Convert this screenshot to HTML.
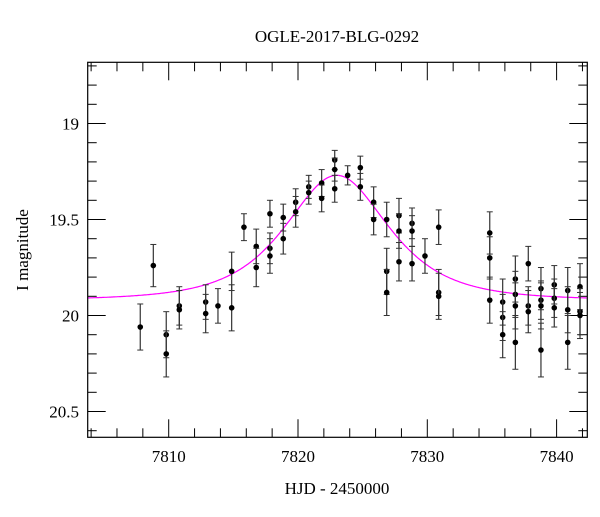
<!DOCTYPE html>
<html><head><meta charset="utf-8"><style>
body{margin:0;background:#fff;}
svg text{font-family:"Liberation Serif",serif;fill:#000;}
</style></head><body>
<svg id="chart" width="600" height="512" xmlns="http://www.w3.org/2000/svg">
<text x="337" y="42" font-size="17" text-anchor="middle">OGLE-2017-BLG-0292</text>
<text x="337" y="494" font-size="17" text-anchor="middle">HJD - 2450000</text>
<text x="28" y="250" font-size="17" text-anchor="middle" transform="rotate(-90 28 250)">I magnitude</text>
<g id="ticks"></g>
<g id="curve"></g>
<g id="pts"></g>
<rect x="87.7" y="62.3" width="499.6" height="375" fill="none" stroke="#000" stroke-width="1.2"/>
</svg>
<script>
const times=[7807.80,7808.81,7809.81,7809.81,7810.82,7810.82,7812.86,7812.86,7813.81,7814.87,7814.87,7815.82,7816.77,7816.77,7817.83,7817.83,7817.83,7818.86,7818.86,7819.82,7819.82,7820.83,7820.83,7821.83,7821.83,7822.84,7822.84,7822.84,7823.84,7824.82,7824.82,7825.85,7825.85,7826.86,7826.86,7826.86,7827.81,7827.81,7827.81,7828.82,7828.82,7828.82,7829.82,7830.88,7830.88,7830.88,7834.83,7834.83,7834.83,7835.83,7835.83,7835.83,7836.81,7836.81,7836.81,7836.81,7837.81,7837.81,7837.81,7838.79,7838.79,7838.79,7838.79,7839.82,7839.82,7839.82,7840.86,7840.86,7840.86,7841.81,7841.81,7841.81];
const mags=[20.06,19.74,20.10,20.20,19.95,19.97,19.93,19.99,19.95,19.77,19.96,19.54,19.64,19.75,19.47,19.65,19.69,19.49,19.60,19.41,19.46,19.33,19.36,19.31,19.39,19.19,19.24,19.34,19.27,19.23,19.33,19.41,19.50,19.50,19.77,19.88,19.48,19.56,19.72,19.52,19.56,19.73,19.69,19.54,19.88,19.90,19.57,19.70,19.92,19.93,20.01,20.10,19.81,19.89,19.95,20.14,19.73,19.95,19.98,19.86,19.92,19.95,20.18,19.84,19.91,19.96,19.87,19.97,20.14,19.85,19.98,20.00];
const errs=[0.12,0.11,0.12,0.12,0.10,0.10,0.09,0.10,0.09,0.10,0.12,0.07,0.09,0.10,0.07,0.08,0.09,0.07,0.08,0.07,0.08,0.06,0.06,0.07,0.07,0.05,0.06,0.07,0.05,0.06,0.07,0.08,0.08,0.09,0.12,0.12,0.09,0.09,0.10,0.08,0.08,0.09,0.09,0.09,0.12,0.12,0.11,0.11,0.12,0.12,0.12,0.12,0.12,0.12,0.12,0.14,0.09,0.10,0.11,0.11,0.10,0.12,0.14,0.10,0.10,0.10,0.12,0.12,0.14,0.12,0.12,0.12];
const xTicks=[7810,7820,7830,7840];
const yTicks=[19,19.5,20,20.5];
const model={t0:7823.0,tE:4.5,u0:1.0,fs:2.4,base:19.92};
const L=87.7,R=587.3,T=62.3,B=437.3;
const X=t=>168.7+(t-7810)*12.93;
const Y=m=>123.5+(m-19)*192;
const NS="http://www.w3.org/2000/svg";
function mk(tag,attrs,parent){const e=document.createElementNS(NS,tag);for(const k in attrs)e.setAttribute(k,attrs[k]);parent.appendChild(e);return e;}
const tk=document.getElementById('ticks');
for(let d=7804;d<=7842;d+=2){const x=X(d);const major=d%10===0;const len=major?18:9;
 const a=mk('line',{x1:x,x2:x,y1:B,y2:B-len,stroke:'#000','stroke-width':1},tk);
 
 
 const b=mk('line',{x1:x,x2:x,y1:T,y2:T+len,stroke:'#000','stroke-width':1},tk);
 
 }
xTicks.forEach(v=>{const t=mk('text',{x:X(v),y:462,'font-size':17,'text-anchor':'middle'},tk);t.textContent=v;
 
 });
for(let i=187;i<=206;i++){const m=i/10;const y=Y(m);if(y<T||y>B)continue;const major=i%5===0;const len=major?18:9;
 const a=mk('line',{x1:L,x2:L+len,y1:y,y2:y,stroke:'#000','stroke-width':1},tk);
 
 
 const b=mk('line',{x1:R,x2:R-len,y1:y,y2:y,stroke:'#000','stroke-width':1},tk);
 
 }
yTicks.forEach(v=>{const t=mk('text',{x:79,y:Y(v)+6,'font-size':17,'text-anchor':'end'},tk);t.textContent=v;
 
 });
function modelMag(t){const u=Math.sqrt(model.u0*model.u0+Math.pow((t-model.t0)/model.tE,2));
 const A=(u*u+2)/(u*Math.sqrt(u*u+4));return model.base-2.5*Math.log10(1+model.fs*(A-1));}
let d='';for(let x=L;x<=R;x+=1){const t=7810+(x-168.7)/12.93;d+=(d?'L':'M')+x.toFixed(1)+' '+Y(modelMag(t)).toFixed(1);}
const cp=mk('path',{d:d,fill:'none',stroke:'#ff00ff','stroke-width':1.2},document.getElementById('curve'));


const pg=document.getElementById('pts');
times.forEach((t,i)=>{const x=X(t),y=Y(mags[i]),e=errs[i]*192;
 const g=mk('g',{},pg);
 
 
 mk('line',{x1:x,x2:x,y1:y-e,y2:y+e,stroke:'#333','stroke-width':1.2},g);
 mk('line',{x1:x-3,x2:x+3,y1:y-e,y2:y-e,stroke:'#333','stroke-width':1},g);
 mk('line',{x1:x-3,x2:x+3,y1:y+e,y2:y+e,stroke:'#333','stroke-width':1},g);
 mk('circle',{cx:x,cy:y,r:2.8,fill:'#000'},g);});
</script>
</body></html>
